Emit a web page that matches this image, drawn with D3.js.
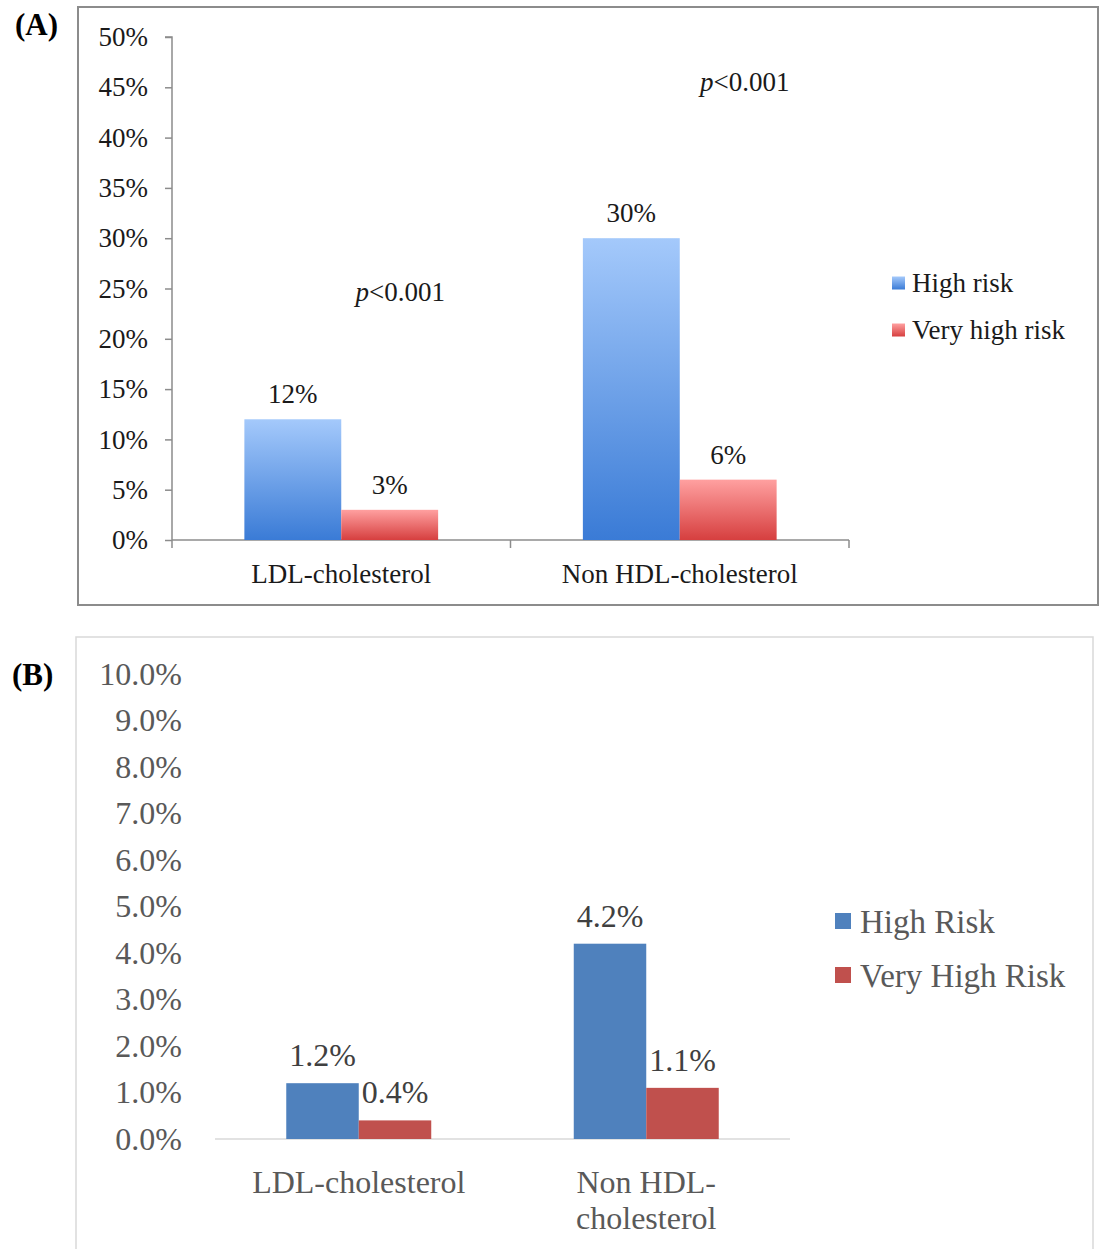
<!DOCTYPE html>
<html>
<head>
<meta charset="utf-8">
<script src="https://cdn.jsdelivr.net/npm/d3@7"></script>
<style>
  body { margin: 0; background: #fff; }
  svg { display: block; font-family: "Liberation Serif", serif; }
</style>
</head>
<body>
<svg id="chart" width="1100" height="1249"></svg>
<script>
// data
const categories = ["LDL-cholesterol", "Non HDL-cholesterol"];

const seriesA = ["High risk", "Very high risk"];
const highRiskA = [12, 30];
const veryHighRiskA = [3, 6];
const ticksA = [0, 5, 10, 15, 20, 25, 30, 35, 40, 45, 50];
const pLabels = ["p<0.001", "p<0.001"];

const seriesB = ["High Risk", "Very High Risk"];
const highRiskB = [1.2, 4.2];
const veryHighRiskB = [0.4, 1.1];
const ticksB = [0, 1, 2, 3, 4, 5, 6, 7, 8, 9, 10];

const svg = d3.select("#chart");
const defs = svg.append("defs");

function gradient(id, top, bottom) {
  const g = defs.append("linearGradient")
    .attr("id", id).attr("x1", 0).attr("y1", 0).attr("x2", 0).attr("y2", 1);
  g.append("stop").attr("offset", "0%").attr("stop-color", top);
  g.append("stop").attr("offset", "100%").attr("stop-color", bottom);
}
gradient("gBlue", "#a4c9fb", "#3a7bd6");
gradient("gRed", "#ffa0a0", "#d63f3f");

// ---------- panel A ----------
svg.append("rect")
  .attr("x", 78).attr("y", 7).attr("width", 1020).attr("height", 598)
  .attr("fill", "none").attr("stroke", "#8c8c8c").attr("stroke-width", 2);

svg.append("text")
  .attr("x", 15).attr("y", 35)
  .style("font-size", "31px").style("font-weight", "bold")
  .text("(A)");

const rowsA = categories.map((c, i) => ({ cat: c, values: [highRiskA[i], veryHighRiskA[i]] }));

const xA = d3.scaleBand().domain(categories).range([172, 849]);
const xsA = d3.scaleBand().domain(seriesA).range([0, xA.bandwidth()]).paddingOuter(0.747);
const yA = d3.scaleLinear().domain([0, 50]).range([540, 37]);
const fillA = d3.scaleOrdinal().domain(seriesA).range(["url(#gBlue)", "url(#gRed)"]);

const axA = svg.append("g").attr("transform", "translate(172,0)")
  .call(d3.axisLeft(yA).tickValues(ticksA).tickSize(7).tickPadding(17)
    .tickFormat(d => d + "%"));
axA.selectAll("path, line").attr("stroke", "#8c8c8c").attr("stroke-width", 1.5);
axA.selectAll("text").style("font-size", "27px").style("font-family", "Liberation Serif")
  .attr("fill", "#1a1a1a");
axA.select(".domain").attr("d", `M-7,${yA(50)}H0V${yA(0)}`);

const bxA = svg.append("g").attr("transform", "translate(0,540)");
bxA.append("line").attr("x1", 172).attr("x2", 849).attr("stroke", "#8c8c8c").attr("stroke-width", 1.5);
bxA.selectAll(".tk").data([0, 1, 2]).join("line")
  .attr("x1", i => 172 + i * xA.step()).attr("x2", i => 172 + i * xA.step())
  .attr("y1", 0).attr("y2", 8).attr("stroke", "#8c8c8c").attr("stroke-width", 1.5);

const gA = svg.append("g").selectAll("g").data(rowsA).join("g")
  .attr("transform", d => `translate(${xA(d.cat)},0)`);
gA.selectAll("rect").data(d => d.values.map((v, j) => ({ s: seriesA[j], v }))).join("rect")
  .attr("x", d => xsA(d.s)).attr("width", xsA.bandwidth())
  .attr("y", d => yA(d.v)).attr("height", d => yA(0) - yA(d.v))
  .attr("fill", d => fillA(d.s));
gA.selectAll("text").data(d => d.values.map((v, j) => ({ s: seriesA[j], v }))).join("text")
  .attr("x", d => xsA(d.s) + xsA.bandwidth() / 2).attr("y", d => yA(d.v) - 16)
  .attr("text-anchor", "middle").style("font-size", "27px").attr("fill", "#1a1a1a")
  .text(d => d.v + "%");

svg.append("g").selectAll("text").data(categories).join("text")
  .attr("x", d => xA(d) + xA.bandwidth() / 2).attr("y", 583)
  .attr("text-anchor", "middle").style("font-size", "27px").attr("fill", "#1a1a1a")
  .text(d => d);

// p-value annotations
const pPos = [{ dx: 59, v: 24.7 }, { dx: 65, v: 45.6 }];
pLabels.forEach((p, i) => {
  const t = svg.append("text")
    .attr("x", xA(categories[i]) + xA.bandwidth() / 2 + pPos[i].dx)
    .attr("y", yA(pPos[i].v)).attr("dy", "0.35em")
    .attr("text-anchor", "middle").style("font-size", "27px").attr("fill", "#1a1a1a");
  t.append("tspan").style("font-style", "italic").text(p.slice(0, 1));
  t.append("tspan").text(p.slice(1));
});

const legA = svg.append("g").selectAll("g").data(seriesA).join("g")
  .attr("transform", (d, i) => `translate(892,${283 + i * 47})`);
legA.append("rect").attr("x", 0).attr("y", -6.5).attr("width", 13).attr("height", 13)
  .attr("fill", d => fillA(d));
legA.append("text").attr("x", 20).attr("dy", "0.35em")
  .style("font-size", "27px").attr("fill", "#1a1a1a").text(d => d);

// ---------- panel B ----------
svg.append("rect")
  .attr("x", 76).attr("y", 637).attr("width", 1017).attr("height", 640)
  .attr("fill", "none").attr("stroke", "#d9d9d9").attr("stroke-width", 1.5);

svg.append("text")
  .attr("x", 12).attr("y", 685)
  .style("font-size", "31px").style("font-weight", "bold")
  .text("(B)");

const rowsB = categories.map((c, i) => ({ cat: c, values: [highRiskB[i], veryHighRiskB[i]] }));

const xB = d3.scaleBand().domain(categories).range([215, 790]);
const xsB = d3.scaleBand().domain(seriesB).range([0, xB.bandwidth()]).paddingOuter(0.983);
const yB = d3.scaleLinear().domain([0, 10]).range([1139, 674]);
const fillB = d3.scaleOrdinal().domain(seriesB).range(["#4f81bd", "#c0504d"]);

const axB = svg.append("g").attr("transform", "translate(182,0)")
  .call(d3.axisLeft(yB).tickValues(ticksB).tickSize(0).tickPadding(0)
    .tickFormat(d => d.toFixed(1) + "%"));
axB.select(".domain").remove();
axB.selectAll("text").style("font-size", "32px").style("font-family", "Liberation Serif")
  .attr("fill", "#595959");

svg.append("line").attr("x1", 215).attr("x2", 790).attr("y1", yB(0)).attr("y2", yB(0))
  .attr("stroke", "#d9d9d9").attr("stroke-width", 1.5);

const gB = svg.append("g").selectAll("g").data(rowsB).join("g")
  .attr("transform", d => `translate(${xB(d.cat)},0)`);
gB.selectAll("rect").data(d => d.values.map((v, j) => ({ s: seriesB[j], v }))).join("rect")
  .attr("x", d => xsB(d.s)).attr("width", xsB.bandwidth())
  .attr("y", d => yB(d.v)).attr("height", d => yB(0) - yB(d.v))
  .attr("fill", d => fillB(d.s));
gB.selectAll("text").data(d => d.values.map((v, j) => ({ s: seriesB[j], v }))).join("text")
  .attr("x", d => xsB(d.s) + xsB.bandwidth() / 2).attr("y", d => yB(d.v) - 17)
  .attr("text-anchor", "middle").style("font-size", "32px").attr("fill", "#404040")
  .text(d => d.v.toFixed(1) + "%");

// category labels, wrapped after the hyphen when too wide for the band
const catB = svg.append("g").selectAll("text").data(categories).join("text")
  .attr("x", d => xB(d) + xB.bandwidth() / 2).attr("y", 1193)
  .attr("text-anchor", "middle").style("font-size", "32px").attr("fill", "#595959")
  .text(d => d);
catB.each(function (d) {
  const t = d3.select(this);
  if (this.getComputedTextLength() > xB.bandwidth() * 0.9) {
    const k = d.indexOf("-") + 1;
    const x = t.attr("x");
    t.text(null);
    t.append("tspan").attr("x", x).text(d.slice(0, k));
    t.append("tspan").attr("x", x).attr("dy", 36).text(d.slice(k));
  }
});

const legB = svg.append("g").selectAll("g").data(seriesB).join("g")
  .attr("transform", (d, i) => `translate(835,${921 + i * 54})`);
legB.append("rect").attr("x", 0).attr("y", -8).attr("width", 16).attr("height", 16)
  .attr("fill", d => fillB(d));
legB.append("text").attr("x", 25).attr("dy", "0.35em")
  .style("font-size", "33px").attr("fill", "#595959").text(d => d);
</script>
</body>
</html>
